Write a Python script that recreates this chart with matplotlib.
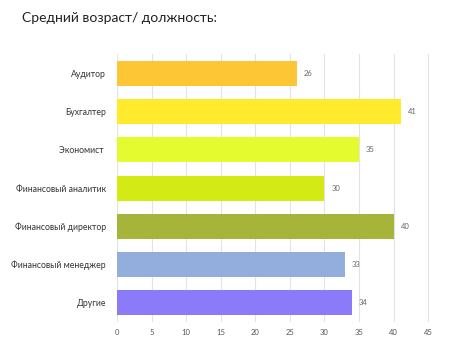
import matplotlib
matplotlib.use("Agg")
import matplotlib.pyplot as plt

# ── Data ──────────────────────────────────────────────────────────────────────
positions = ["Аудитор", "Бухгалтер", "Экономист ", "Финансовый аналитик",
             "Финансовый директор", "Финансовый менеджер", "Другие"]
avg_age = [26, 41, 35, 30, 40, 33, 34]
bar_colors = ["#FDC634", "#FFEB2B", "#E4FB2F", "#D3EA14",
              "#A7B43A", "#93AEDD", "#8B7BF9"]
x_ticks = [0, 5, 10, 15, 20, 25, 30, 35, 40, 45]

plt.rcParams["font.family"] = ["Lato", "DejaVu Sans"]

fig = plt.figure(figsize=(4.52, 3.5), dpi=100)
ax = fig.add_axes([0.259, 0.08, 0.696, 0.765])

ypos = list(range(len(positions)))
ax.barh(ypos, avg_age, height=0.66, color=bar_colors, zorder=3)

for y, v in zip(ypos, avg_age):
    ax.text(v + 1.0, y, str(v), va="center", ha="left",
            fontsize=5.5, color="#666666")

ax.set_yticks(ypos)
ax.set_yticklabels(positions, fontsize=6.2, color="#333333")
ax.set_ylim(len(positions) - 0.5, -0.5)
ax.set_xlim(0, 45.5)
ax.set_xticks(x_ticks)
ax.set_xticklabels([str(t) for t in x_ticks], fontsize=5.5, color="#555555")
ax.tick_params(axis="x", length=0, pad=5)
ax.tick_params(axis="y", length=0, pad=8)
ax.grid(axis="x", color="#E3E3E3", linewidth=0.8, zorder=0)
for s in ax.spines.values():
    s.set_visible(False)

fig.text(0.049, 0.95, "Средний возраст/ должность:", fontsize=10,
         color="#222222", va="center", ha="left")

fig.savefig("out.png", dpi=100, facecolor="white")
